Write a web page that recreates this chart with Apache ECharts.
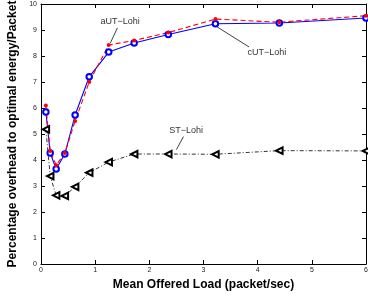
<!DOCTYPE html>
<html>
<head>
<meta charset="utf-8">
<script src="https://cdn.jsdelivr.net/npm/echarts@6/dist/echarts.min.js"></script>
<style>
  html, body { margin: 0; padding: 0; background: #fff; }
  #chart { width: 368px; height: 297px; }
</style>
</head>
<body>
<div id="chart"></div>
<script>
// offered load (packet/sec) shared by all three curves
const loads = [0.09, 0.17, 0.28, 0.44, 0.63, 0.89, 1.25, 1.72, 2.35, 3.22, 4.4, 6.0]
const aUT = [6.1, 4.35, 3.8, 4.27, 5.5, 7.0, 8.42, 8.6, 8.9, 9.42, 9.3, 9.55]
const cUT = [5.85, 4.27, 3.65, 4.23, 5.73, 7.2, 8.15, 8.5, 8.83, 9.24, 9.27, 9.46]
const ST = [5.18, 3.38, 2.64, 2.62, 2.97, 3.51, 3.92, 4.23, 4.23, 4.22, 4.36, 4.35]
const xTicks = [0, 1, 2, 3, 4, 5, 6]
const yTicks = [0, 1, 2, 3, 4, 5, 6, 7, 8, 9, 10]

const pairs = ys => loads.map((x, i) => [x, ys[i]])
const font = 'Liberation Sans, Arial, sans-serif'

// text label + arrow annotation, in data coords
function note(text, at, from, to) {
  return {
    markPoint: {
      symbol: 'circle', symbolSize: 1, silent: true,
      itemStyle: { color: 'transparent' },
      label: { show: true, position: 'inside', formatter: text, color: '#333', fontSize: 9, fontFamily: font },
      data: [{ coord: at }],
    },
    markLine: {
      silent: true, symbol: ['none', 'arrow'], symbolSize: [0, 6],
      lineStyle: { color: '#111', width: 0.8, type: 'solid' },
      label: { show: false },
      data: [[{ coord: from }, { coord: to }]],
    },
  }
}

const chart = echarts.init(document.getElementById('chart'))

const axisCommon = {
  type: 'value', min: 0,
  axisLine: { show: true, onZero: false, lineStyle: { color: '#000', width: 1 } },
  axisTick: { show: true, inside: true, length: 4, lineStyle: { color: '#000' } },
  splitLine: { show: false },
}

chart.setOption({
  animation: false,
  grid: { left: 41, right: 2, top: 4, bottom: 33, outerBoundsMode: 'none', containLabel: false },
  xAxis: [
    {
      ...axisCommon, max: 6, interval: 1, position: 'bottom',
      axisLabel: { fontSize: 7, color: '#222', margin: 3, fontFamily: font, formatter: v => xTicks.includes(v) ? String(v) : '' },
      name: 'Mean Offered Load (packet/sec)', nameLocation: 'middle', nameGap: 15,
      nameTextStyle: { fontSize: 12, fontWeight: 'bold', color: '#000', fontFamily: font },
    },
    { ...axisCommon, max: 6, interval: 1, position: 'top', axisLabel: { show: false } },
  ],
  yAxis: [
    {
      ...axisCommon, max: 10, interval: 1, position: 'left',
      axisLabel: { fontSize: 7, color: '#222', margin: 4, fontFamily: font, formatter: v => yTicks.includes(v) ? String(v) : '' },
      name: 'Percentage overhead to optimal energy/Packet', nameLocation: 'middle', nameGap: 20,
      nameTextStyle: { fontSize: 12, fontWeight: 'bold', color: '#000', fontFamily: font },
    },
    { ...axisCommon, max: 10, interval: 1, position: 'right', axisLabel: { show: false } },
  ],
  series: [
    {
      name: 'ST-Lohi', type: 'line', data: pairs(ST),
      symbol: 'emptyTriangle', symbolSize: 6.5, symbolRotate: 90,
      lineStyle: { color: '#000', width: 0.8, type: [4, 2, 1, 2] },
      itemStyle: { color: '#000', borderColor: '#000', borderWidth: 0.6 },
      ...note('ST\u2212Lohi', [2.68, 5.12], [2.63, 4.9], [2.5, 4.4]),
    },
    {
      name: 'cUT-Lohi', type: 'line', data: pairs(cUT),
      symbol: 'emptyCircle', symbolSize: 5.5,
      lineStyle: { color: '#0000ff', width: 1.1 },
      itemStyle: { color: '#0000ff', borderColor: '#0000ff', borderWidth: 1 },
      ...note('cUT\u2212Lohi', [4.17, 8.12], [3.84, 8.35], [3.25, 9.12]),
    },
    {
      name: 'aUT-Lohi', type: 'line', data: pairs(aUT),
      symbol: 'circle', symbolSize: 4,
      lineStyle: { color: '#ff0000', width: 1.1, type: [5, 3] },
      itemStyle: { color: '#ff0000' },
      ...note('aUT\u2212Lohi', [1.46, 9.31], [1.41, 9.08], [1.28, 8.5]),
    },
  ],
})
</script>
</body>
</html>
